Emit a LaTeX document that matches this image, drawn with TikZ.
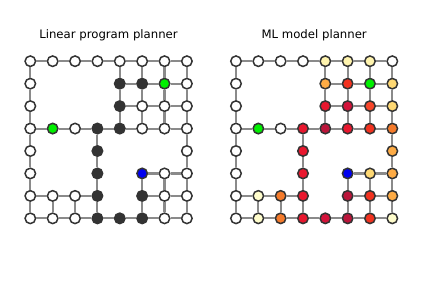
\documentclass[tikz,border=0pt]{standalone}
\usepackage{fontspec}
\setmainfont{DejaVu Sans}
\usepackage{tikz}
\usetikzlibrary{positioning}

% colours of the two planners
\definecolor{rim}{HTML}{333333}
\definecolor{linkgray}{HTML}{8A8A8A}
\definecolor{pathdark}{HTML}{333333}
\definecolor{goal}{HTML}{00F000}
\definecolor{start}{HTML}{0000F0}
\definecolor{pale}{HTML}{FFFDCC}
\definecolor{cream}{HTML}{FFF4AE}
\definecolor{gold}{HTML}{FED873}
\definecolor{amber}{HTML}{FDAB45}
\definecolor{tangerine}{HTML}{F57B2B}
\definecolor{vermil}{HTML}{F8462A}
\definecolor{scarlet}{HTML}{F2321F}
\definecolor{hotred}{HTML}{E8172E}
\definecolor{crimson}{HTML}{D3133A}
\definecolor{darkred}{HTML}{BB153A}

\tikzset{
  cell/.style={circle, draw=rim, line width=1.5bp, minimum size=10.5bp, inner sep=0pt},
  link/.style={draw=linkgray, line width=2.1bp},
  title/.style={anchor=base, font=\fontsize{11.7bp}{14bp}\selectfont}
}

\begin{document}
\begin{tikzpicture}[x=1bp, y=-1bp]
    \useasboundingbox (0,0) rectangle (423,282);

    % Titel
    \node[title] (ltitle) at (108.5, 38.5) {Linear program planner};
    \node[title] (rtitle) at (314.2, 38.5) {ML model planner};

    % Knoten links
    \foreach \r/\row in {
        0/{0/white,1/white,2/white,3/white,4/white,5/white,6/white,7/white},
        1/{0/white,4/pathdark,5/pathdark,6/goal,7/white},
        2/{0/white,4/pathdark,5/white,6/white,7/white},
        3/{0/white,1/goal,2/white,3/pathdark,4/pathdark,5/white,6/white,7/white},
        4/{0/white,3/pathdark,7/white},
        5/{0/white,3/pathdark,5/start,6/white,7/white},
        6/{0/white,1/white,2/white,3/pathdark,5/pathdark,6/white,7/white},
        7/{0/white,1/white,2/white,3/pathdark,4/pathdark,5/pathdark,6/white,7/white}} {
        \foreach \c/\col in \row {
            \node[cell, fill=\col] (L-\r-\c) at ({30.3+\c*22.37}, {61.2+\r*22.45}) {};
        }
    }

    % Knoten rechts
    \foreach \r/\row in {
        0/{0/white,1/white,2/white,3/white,4/cream,5/cream,6/cream,7/white},
        1/{0/white,4/amber,5/scarlet,6/goal,7/gold},
        2/{0/white,4/hotred,5/crimson,6/vermil,7/gold},
        3/{0/white,1/goal,2/white,3/hotred,4/darkred,5/hotred,6/scarlet,7/tangerine},
        4/{0/white,3/hotred,7/amber},
        5/{0/white,3/hotred,5/start,6/gold,7/amber},
        6/{0/white,1/pale,2/tangerine,3/hotred,5/darkred,6/scarlet,7/amber},
        7/{0/white,1/pale,2/tangerine,3/hotred,4/crimson,5/darkred,6/scarlet,7/pale}} {
        \foreach \c/\col in \row {
            \node[cell, fill=\col] (R-\r-\c) at ({236+\c*22.33}, {61.2+\r*22.45}) {};
        }
    }

    % Kanten
    \foreach \p in {L,R} {
        % waagrecht
        \foreach \r/\cs in {0/{0,...,6}, 1/{4,5,6}, 2/{4,5,6}, 3/{0,...,6},
                            5/{5,6}, 6/{0,1,2,5,6}, 7/{0,...,6}} {
            \foreach \c in \cs {
                \pgfmathtruncatemacro\n{\c+1}
                \draw[link] (\p-\r-\c) -- (\p-\r-\n);
            }
        }
        % senkrecht
        \foreach \r/\cs in {0/{0,4,5,6,7}, 1/{0,4,5,6,7}, 2/{0,4,5,6,7}, 3/{0,3,7},
                            4/{0,3,7}, 5/{0,3,5,6,7}, 6/{0,1,2,3,5,6,7}} {
            \foreach \c in \cs {
                \pgfmathtruncatemacro\n{\r+1}
                \draw[link] (\p-\r-\c) -- (\p-\n-\c);
            }
        }
    }

\end{tikzpicture}
\end{document}
